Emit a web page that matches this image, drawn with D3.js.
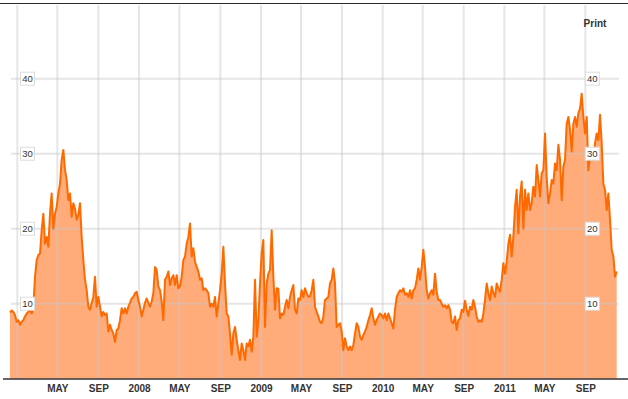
<!DOCTYPE html>
<html>
<head>
<meta charset="utf-8">
<script src="https://cdn.jsdelivr.net/npm/d3@7"></script>
<style>
  html, body { margin: 0; padding: 0; background: #fff; }
  svg { display: block; }
</style>
</head>
<body>
<svg id="chart" width="628" height="399"></svg>
<script>
// ---- data ----
const startDate = new Date(2006, 11, 10);
const stepDays = 5;
const values = [
  8.8, 9.1, 8.9, 8.5, 7.6, 7.8, 7.2, 7.6, 7.8, 8.3,
  8.7, 8.9, 9.2, 8.7, 9.6, 13.6, 15.8, 16.5, 16.7, 19.8,
  22, 18, 18.9, 17.6, 22, 24.7, 20, 22, 22.9, 24.7,
  26, 29.2, 30.5, 27.8, 26.5, 23.8, 24.7, 21.6, 23.4, 22.7,
  21.2, 21.8, 23.4, 18.9, 15.8, 13.2, 11.8, 9.6, 9.2, 10.1,
  10.9, 13.6, 9.6, 10.9, 9.6, 8.3, 8.9, 8.5, 8.7, 6.3,
  7.2, 6.5, 6.05, 4.9, 6.5, 6.7, 7.8, 9.4, 8.7, 9.4,
  8.7, 9.6, 10.1, 10.7, 10.9, 11.4, 11.6, 10.5, 9.6, 8.3,
  9.2, 10.1, 10.7, 10.1, 9.6, 10.3, 11.4, 14.9, 14.5, 12.3,
  11.8, 10.3, 7.8, 13.2, 13.6, 14.3, 12.5, 13.4, 13.8, 12.5,
  13.8, 12.05, 12.3, 13.6, 15.8, 16.3, 18, 18.9, 20.7, 16.3,
  17.4, 15.6, 14.9, 14.3, 13.2, 13.4, 11.8, 12.05, 11.8, 11.4,
  9.6, 10, 9.6, 10.9, 8.3, 10, 11.8, 14, 17.6, 12.7,
  8.7, 8.3, 6.05, 3.2, 6.05, 6.9, 5.2, 3.8, 2.5, 4.7,
  3.8, 2.5, 4.7, 4.3, 5.2, 3.6, 5.6, 13.2, 5.6, 7.8,
  12.7, 16.7, 18.5, 6.9, 12.7, 14, 14.5, 19.8, 13.6, 9.2,
  12.05, 12, 8.05, 8.7, 8.5, 9.6, 10.5, 9.4, 10.9, 11.8,
  12.5, 9.2, 8.7, 10.7, 10.5, 11.8, 10.9, 12.05, 11.4, 10.9,
  11, 11.8, 13.2, 9.6, 8.9, 8.3, 7.6, 7.4, 8.3, 10.5,
  10.7, 10.9, 12.7, 13.2, 14.7, 12.7, 6.9, 7.2, 7.4, 6.3,
  3.8, 5.4, 4.3, 3.8, 4.3, 3.8, 4.5, 6.05, 7.4, 6.9,
  5.6, 5.2, 5.8, 6.3, 6.9, 7.8, 8.5, 9.4, 8.05, 7.2,
  7.8, 8.3, 8.7, 8.5, 8.05, 8.7, 7.8, 8.7, 8.05, 7.4,
  6.7, 9.2, 10.9, 11.4, 11.8, 11.6, 12.05, 11.2, 11.4, 10.9,
  11.8, 10.7, 11.8, 12.05, 13.2, 14.7, 13.2, 14.9, 17.2, 14.9,
  11.8, 10.7, 11.4, 11.8, 11.2, 14, 11.6, 10.5, 10.5, 10,
  9.6, 9.8, 9.4, 9.8, 9.2, 7.6, 7.4, 8.3, 6.5, 7.8,
  8.05, 9.2, 8.9, 10.4, 9.2, 8.4, 9.6, 9.2, 10.5, 9.6,
  8.3, 7.6, 7.8, 7.6, 8.7, 10.5, 12.7, 11.4, 10.5, 12.3,
  11.4, 10.9, 12.7, 12.05, 11.6, 13.2, 15.4, 14, 15.6, 18,
  19.2, 16.3, 18.9, 22.9, 25.2, 19.4, 24.3, 26.3, 20, 25.2,
  22.5, 24.7, 22.5, 23.4, 25.6, 24.3, 28.5, 26.5, 24.3, 27.4,
  27.8, 32.7, 26.9, 23.4, 24.7, 26.5, 26, 28.7, 27.8, 31.2,
  29.2, 23.8, 28.3, 29.2, 34, 34.9, 33.2, 30.3, 34, 34.9,
  33.6, 35.4, 36, 38, 34.9, 32.7, 34.9, 27.8, 29.6, 30.1,
  29.2, 31.4, 32.7, 31.8, 35.2, 31.4, 26, 25.2, 22.5, 24.7,
  21.2, 17.2, 16.3, 13.6, 14.3
];
const xTickDates = [
  "2007-01-01","2007-05-01","2007-09-01","2008-01-01","2008-05-01","2008-09-01",
  "2009-01-01","2009-05-01","2009-09-01","2010-01-01","2010-05-01","2010-09-01",
  "2011-01-01","2011-05-01","2011-09-01"
];
const yTicks = [10, 20, 30, 40];
const yMax = 50;

// ---- build ----
const parse = d3.timeParse("%Y-%m-%d");
const data = values.map((v, i) => ({ date: d3.timeDay.offset(startDate, i * stepDays), value: v }));
const tickDates = xTickDates.map(parse);

const svg = d3.select("#chart");
const endDate = d3.timeDay.offset(startDate, 1823);
const x = d3.scaleTime().domain([startDate, endDate]).range([10, 617.7]);
const y = d3.scaleLinear().domain([0, yMax]).range([378.7, 3.7]);

// top border
svg.append("line").attr("x1", 0).attr("x2", 628).attr("y1", 3.5).attr("y2", 3.5)
  .attr("stroke", "#2a2a2a").attr("stroke-width", 1.2);

// area
svg.append("path").datum(data)
  .attr("fill", "#ffab7a")
  .attr("d", d3.area().x(d => x(d.date)).y0(y(0)).y1(d => y(d.value)));

// gridlines
const grid = svg.append("g").attr("stroke", "#c8c8c8").attr("stroke-opacity", 0.45).attr("stroke-width", 2);
grid.selectAll("line.v").data(tickDates).join("line")
  .attr("x1", d => x(d)).attr("x2", d => x(d)).attr("y1", 5).attr("y2", 378);
grid.selectAll("line.h").data(yTicks).join("line")
  .attr("x1", 11).attr("x2", 619).attr("y1", d => y(d)).attr("y2", d => y(d));

// line
svg.append("path").datum(data)
  .attr("fill", "none").attr("stroke", "#ff6a00").attr("stroke-width", 2)
  .attr("stroke-linejoin", "round")
  .attr("d", d3.line().x(d => x(d.date)).y(d => y(d.value)));

// bottom axis
const fmt = d => d.getMonth() === 0 ? (d.getFullYear() === 2007 ? "" : d3.timeFormat("%Y")(d)) : d3.timeFormat("%b")(d).toUpperCase();
const xAxis = svg.append("g").attr("transform", "translate(0,379)")
  .call(d3.axisBottom(x).tickValues(tickDates).tickFormat(fmt).tickSize(0).tickPadding(6));
xAxis.select(".domain").remove();
xAxis.selectAll("text")
  .attr("font-family", "'Liberation Sans Narrow','Arial Narrow','Liberation Sans',Arial,sans-serif")
  .attr("font-weight", "bold").attr("font-size", 10).attr("fill", "#333");
svg.append("line").attr("x1", 3).attr("x2", 628).attr("y1", 379).attr("y2", 379)
  .attr("stroke", "#333").attr("stroke-width", 1.3);

// y labels (both sides)
[27.5, 592.3].forEach(cx => {
  const g = svg.append("g");
  const lab = g.selectAll("g").data(yTicks).join("g").attr("transform", d => `translate(${cx},${y(d)})`);
  lab.append("rect").attr("x", -7).attr("y", -6.5).attr("width", 14).attr("height", 13)
    .attr("fill", "#fff").attr("stroke", "#dcdcdc").attr("stroke-width", 1);
  lab.append("text").text(d => d).attr("text-anchor", "middle").attr("dy", "0.35em")
    .attr("font-family", "'Liberation Sans',Arial,sans-serif").attr("font-size", 9.5).attr("fill", "#333");
});

// Print link
svg.append("text").attr("x", 595).attr("y", 26.5).attr("text-anchor", "middle")
  .attr("font-family", "'Liberation Sans',Arial,sans-serif").attr("font-weight", "bold")
  .attr("font-size", 10).attr("fill", "#333").text("Print");
</script>
</body>
</html>
